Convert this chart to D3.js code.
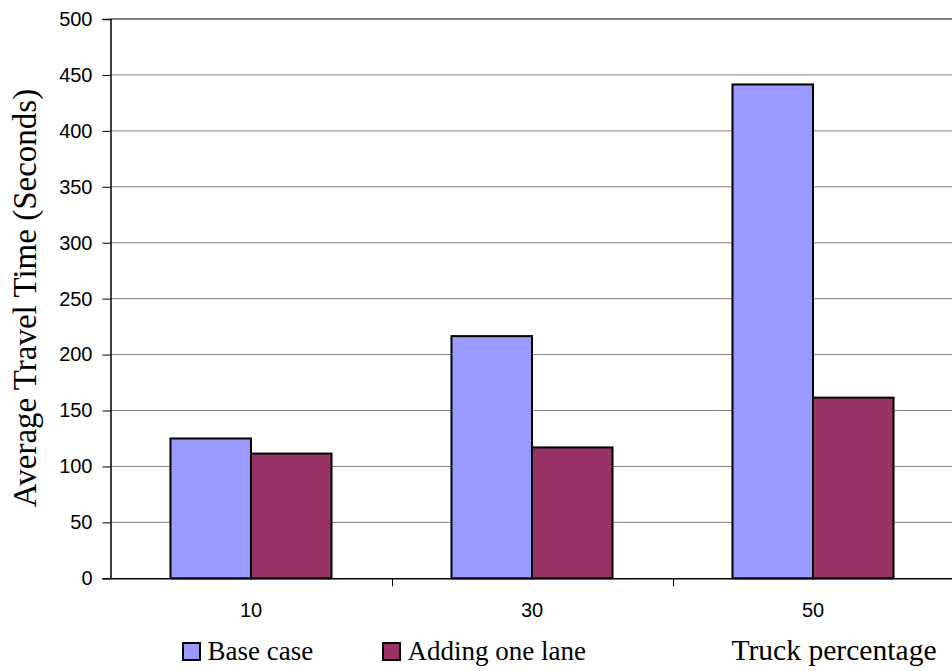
<!DOCTYPE html>
<html><head><meta charset="utf-8">
<script src="https://cdn.jsdelivr.net/npm/d3@7/dist/d3.min.js"></script>
<style>body{margin:0;background:#fff}svg{display:block}</style>
</head><body><svg id="c" width="952" height="671"></svg>
<script>
const categories = ["10", "30", "50"];
const seriesNames = ["Base case", "Adding one lane"];
const baseCase = [125, 216.5, 441.5];
const addingLane = [111.5, 117, 161.5];
const yTicks = [0, 50, 100, 150, 200, 250, 300, 350, 400, 450, 500];
const colors = ["#9999FF", "#993366"];

const svg = d3.select("#c");
const L = 110.5, R = 953.5, T = 19, B = 578.3;
const x = d3.scaleBand().domain(categories).range([L, R]);
const y = d3.scaleLinear().domain([0, 500]).range([B, T]);
const inner = d3.scaleBand().domain(seriesNames).range([0, x.bandwidth()]).paddingOuter(0.745).paddingInner(0);
const serif = "Liberation Serif, Times New Roman, serif";
const sans = "Liberation Sans, Arial, sans-serif";

// gridlines
svg.append("g").selectAll("line").data(yTicks.filter(d => d > 0)).join("line")
  .attr("x1", L).attr("x2", R).attr("y1", d => y(d)).attr("y2", d => y(d))
  .attr("stroke", "#808080").attr("stroke-width", d => d === 500 ? 2 : 1);

// bars
const data = categories.map((c, i) => ({c, vals: [baseCase[i], addingLane[i]]}));
const g = svg.append("g");
data.forEach(d => {
  d.vals.forEach((v, j) => {
    g.append("rect")
      .attr("x", x(d.c) + inner(seriesNames[j]))
      .attr("y", y(v))
      .attr("width", inner.bandwidth())
      .attr("height", B - y(v))
      .attr("fill", colors[j]).attr("stroke", "#000").attr("stroke-width", 2);
  });
});

// y axis
const ya = d3.axisLeft(y).tickValues(yTicks).tickSize(8).tickPadding(10);
const yg = svg.append("g").attr("transform", `translate(${L},0)`).call(ya);
yg.select(".domain").attr("stroke", "#000").attr("stroke-width", 1.5);
yg.selectAll(".tick line").attr("stroke", "#000");
yg.selectAll("text").attr("font-family", sans).attr("font-size", 20).attr("fill", "#000");

// x axis
const xa = d3.axisBottom(x).tickSize(0).tickPadding(25);
const xg = svg.append("g").attr("transform", `translate(0,${B})`).call(xa);
xg.select(".domain").attr("stroke", "#000").attr("stroke-width", 1.5);
xg.selectAll("text").attr("font-family", sans).attr("font-size", 20).attr("fill", "#000");
// category boundary ticks
svg.append("g").selectAll("line").data(categories.slice(1)).join("line")
  .attr("x1", d => Math.round(x(d)) + 0.5).attr("x2", d => Math.round(x(d)) + 0.5)
  .attr("y1", B).attr("y2", B + 8).attr("stroke", "#000");

// y label
svg.append("text").attr("transform", "translate(36,298) rotate(-90)")
  .attr("text-anchor", "middle").attr("font-family", serif)
  .attr("font-size", 33).text("Average Travel Time (Seconds)");

// x label
svg.append("text").attr("x", 834).attr("y", 660).attr("text-anchor", "middle")
  .attr("font-family", serif).attr("font-size", 29.6)
  .text("Truck percentage");

// legend
const legX = [183, 383];
seriesNames.forEach((s, j) => {
  svg.append("rect").attr("x", legX[j]).attr("y", 643).attr("width", 17).attr("height", 17)
    .attr("fill", colors[j]).attr("stroke", "#000").attr("stroke-width", 2);
  svg.append("text").attr("x", legX[j] + 24.5).attr("y", 660)
    .attr("font-family", serif).attr("font-size", 27).text(s);
});
</script></body></html>
